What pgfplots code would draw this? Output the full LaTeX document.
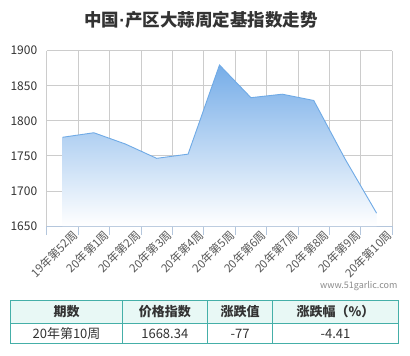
\documentclass[border=0pt]{standalone}
\usepackage{pgfplots}
\pgfplotsset{compat=1.18}
\usepackage{fontspec}
\setmainfont{Noto Sans CJK SC}
\newfontfamily\latinf{Liberation Sans}
\definecolor{gridc}{HTML}{CCCCCC}
\definecolor{axc}{HTML}{B4C6DC}
\definecolor{linec}{HTML}{6FAAE6}
\definecolor{topc}{HTML}{76ADE8}
\definecolor{tealc}{HTML}{45AFA8}
\definecolor{headbg}{HTML}{E8F8F5}
\definecolor{txt}{HTML}{333333}
\begin{document}
\begin{tikzpicture}[x=1pt,y=1pt]
\path[fill=white] (0,0) rectangle (410,-356);
\node[font=\fontsize{17.5}{20}\selectfont\bfseries, text=txt] at (201,-20) {中国{\latinf\bfseries ·}产区大蒜周定基指数走势};
\begin{axis}[
  at={(46.7pt,-226pt)}, anchor=south west,
  scale only axis, width=345.6pt, height=175.3pt,
  xmin=-0.5, xmax=10.5, ymin=1650, ymax=1900,
  ytick={1650,1700,...,1900},
  xtick={0,...,10},
  xticklabels={19年第52周,20年第1周,20年第2周,20年第3周,20年第4周,20年第5周,20年第6周,20年第7周,20年第8周,20年第9周,20年第10周},
  minor xtick={-0.5,0.5,...,10.5},
  ymajorgrids, xminorgrids,
  grid style={gridc, line width=0.8pt},
  minor grid style={gridc, line width=0.8pt},
  axis x line*=bottom, axis y line*=left,
  x axis line style={axc, line width=0.8pt, -},
  y axis line style={gridc, line width=0.8pt, -},
  major tick length=0pt,
  minor tick length=9pt,
  tick align=outside,
  minor x tick style={axc, line width=0.8pt},
  /pgf/number format/assume math mode=true,
  /pgf/number format/set thousands separator={},
  yticklabel style={font=\fontsize{12}{14}\selectfont, text=txt, xshift=-6pt},
  xticklabel style={font=\fontsize{11.5}{12}\selectfont, text=black!65, rotate=45, anchor=north east, inner sep=0.5pt, yshift=-8pt, xshift=5pt},
]
\addplot[draw=none, top color=topc, bottom color=white] coordinates {
(0,1650) (0,1776.5) (1,1783) (2,1767) (3,1746.5) (4,1752.5) (5,1879.6) (6,1833) (7,1838) (8,1829) (9,1745.34) (10,1668.34) (10,1650)} -- cycle;
\addplot[linec, line width=0.9pt, mark=none] coordinates {
(0,1776.5) (1,1783) (2,1767) (3,1746.5) (4,1752.5) (5,1879.6) (6,1833) (7,1838) (8,1829) (9,1745.34) (10,1668.34)};
\end{axis}
\node[anchor=east, font=\fontsize{9}{10}\selectfont, text=black!45] at (401,-286) {www.51garlic.com};
% table
\fill[headbg] (10.7,-300.7) rectangle (398.3,-323.3);
\draw[tealc, line width=1.2pt] (10.7,-300.7) rectangle (398.3,-343.7);
\draw[tealc, line width=1.2pt] (10.7,-323.3) -- (398.3,-323.3);
\foreach \xx in {122.3,207.3,272.7} \draw[tealc, line width=1.2pt] (\xx,-300.7) -- (\xx,-343.7);
\begin{scope}[every node/.style={text=txt, font=\fontsize{13}{15}\selectfont}]
\node[font=\fontsize{13}{15}\selectfont\bfseries] at (66.5,-312) {期数};
\node[font=\fontsize{13}{15}\selectfont\bfseries] at (164.8,-312) {价格指数};
\node[font=\fontsize{13}{15}\selectfont\bfseries] at (240,-312) {涨跌值};
\node[font=\fontsize{13}{15}\selectfont\bfseries] at (335.5,-312) {涨跌幅（\%）};
\node at (66.5,-333.5) {20年第10周};
\node at (164.8,-333.5) {1668.34};
\node at (240,-333.5) {-77};
\node at (335.5,-333.5) {-4.41};
\end{scope}
\end{tikzpicture}
\end{document}
